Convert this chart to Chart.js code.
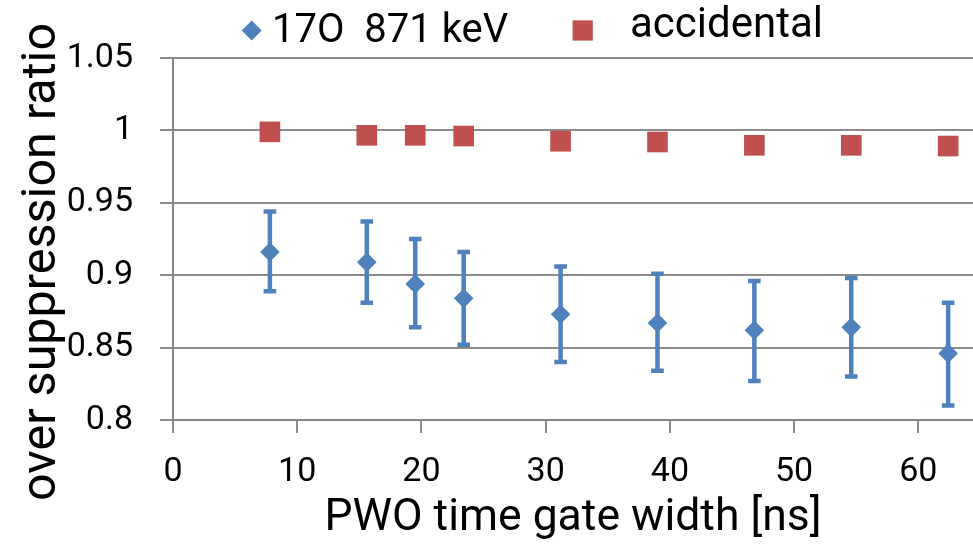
<!DOCTYPE html>
<html><head><meta charset="utf-8">
<script src="https://cdn.jsdelivr.net/npm/chart.js@4.4.0/dist/chart.umd.min.js"></script>
<style>html,body{margin:0;padding:0;background:#fff;overflow:hidden}canvas{display:block}</style>
</head><body>
<canvas id="c" width="973" height="544"></canvas>
<script>
// ---- data ----
const gateWidths = [7.8, 15.6, 19.5, 23.4, 31.2, 39.0, 46.8, 54.6, 62.4];
const ratio17O = [0.916, 0.909, 0.894, 0.884, 0.873, 0.867, 0.862, 0.864, 0.846];
const ratio17OHigh = [0.944, 0.937, 0.925, 0.916, 0.906, 0.901, 0.896, 0.898, 0.881];
const ratio17OLow = [0.889, 0.881, 0.864, 0.852, 0.840, 0.834, 0.827, 0.830, 0.810];
const ratioAccidental = [0.999, 0.9966, 0.9966, 0.9961, 0.9925, 0.992, 0.9897, 0.9897, 0.9892];
const xTickValues = [0, 10, 20, 30, 40, 50, 60];
const yTickValues = [0.8, 0.85, 0.9, 0.95, 1, 1.05];
const seriesLabels = ['17O  871 keV', 'accidental'];
const xTitle = 'PWO time gate width [ns]';
const yTitle = 'over suppression ratio';

const BLUE = '#4F81BD';
const RED = '#C0504D';
const FONT = 'Roboto';
Chart.defaults.font.family = FONT;

const errorBarPlugin = {
  id: 'errorBars',
  beforeDatasetsDraw(chart) {
    const ctx = chart.ctx, xs = chart.scales.x, ys = chart.scales.y;
    ctx.save();
    ctx.strokeStyle = BLUE;
    ctx.lineWidth = 4.5;
    ctx.lineCap = 'butt';
    gateWidths.forEach((g, i) => {
      const x = xs.getPixelForValue(g);
      const yt = ys.getPixelForValue(ratio17OHigh[i]);
      const yb = ys.getPixelForValue(ratio17OLow[i]);
      ctx.beginPath();
      ctx.moveTo(x, yt); ctx.lineTo(x, yb);
      ctx.moveTo(x - 6.3, yt); ctx.lineTo(x + 6.3, yt);
      ctx.moveTo(x - 6.3, yb); ctx.lineTo(x + 6.3, yb);
      ctx.stroke();
    });
    ctx.restore();
  }
};

const legendPlugin = {
  id: 'customLegend',
  afterDraw(chart) {
    const ctx = chart.ctx;
    const ds = chart.data.datasets;
    ctx.save();
    ctx.fillStyle = ds[0].backgroundColor;
    ctx.strokeStyle = ds[0].backgroundColor;
    Chart.helpers.drawPoint(ctx, {pointStyle: 'rectRot', radius: 10, borderWidth: 0}, 251.7, 30.5);
    ctx.fillStyle = ds[1].backgroundColor;
    ctx.strokeStyle = ds[1].backgroundColor;
    Chart.helpers.drawPoint(ctx, {pointStyle: 'rect', radius: 14.3, borderWidth: 0}, 582.7, 30.5);
    ctx.fillStyle = '#000';
    ctx.textAlign = 'left';
    ctx.textBaseline = 'alphabetic';
    ctx.font = '40px ' + FONT;
    ctx.fillText(ds[0].label, 272, 41.5);
    ctx.font = '42px ' + FONT;
    ctx.fillText(ds[1].label, 630, 36.5);
    ctx.restore();
  }
};

const yTitlePlugin = {
  id: 'yTitle',
  afterDraw(chart) {
    const ctx = chart.ctx;
    ctx.save();
    ctx.translate(55, 262);
    ctx.rotate(-Math.PI / 2);
    ctx.fillStyle = '#000';
    ctx.font = '48.5px ' + FONT;
    ctx.textAlign = 'center';
    ctx.textBaseline = 'alphabetic';
    ctx.fillText(yTitle, 0, 0);
    ctx.restore();
  }
};

new Chart(document.getElementById('c'), {
  type: 'scatter',
  data: {
    datasets: [
      {
        label: seriesLabels[0],
        data: gateWidths.map((x, i) => ({x: x, y: ratio17O[i]})),
        pointStyle: 'rectRot', pointRadius: 9.8, pointHoverRadius: 9.8,
        backgroundColor: BLUE, borderColor: BLUE, borderWidth: 0, showLine: false
      },
      {
        label: seriesLabels[1],
        data: gateWidths.map((x, i) => ({x: x, y: ratioAccidental[i]})),
        pointStyle: 'rect', pointRadius: 14.6, pointHoverRadius: 14.6,
        backgroundColor: RED, borderColor: RED, borderWidth: 0, showLine: false
      }
    ]
  },
  options: {
    responsive: false, animation: false, devicePixelRatio: 1,
    layout: {autoPadding: false, padding: {top: 58, right: 0, bottom: 0, left: 0}},
    plugins: {legend: {display: false}, tooltip: {enabled: false}},
    scales: {
      x: {
        type: 'linear', position: 'bottom', min: 0, max: 64.4,
        afterBuildTicks(s) { s.ticks = xTickValues.map(v => ({value: v})); },
        afterFit(s) { s.height = 124; s.paddingRight = 0; s.paddingLeft = 0; },
        grid: {drawOnChartArea: false, drawTicks: true, tickLength: 13, color: '#8c8c8c', lineWidth: 2},
        border: {display: true, color: '#868686', width: 2},
        ticks: {padding: 22.5, font: {size: 34, lineHeight: 1}, color: '#000', maxRotation: 0, autoSkip: false},
        title: {display: true, text: xTitle, font: {size: 44.5, lineHeight: 1}, color: '#000', padding: {top: 0, bottom: 3}}
      },
      y: {
        type: 'linear', min: 0.8, max: 1.05,
        afterBuildTicks(s) { s.ticks = yTickValues.map(v => ({value: v})); },
        afterFit(s) { s.width = 173; s.paddingTop = 0; s.paddingBottom = 0; },
        grid: {drawTicks: true, tickLength: 13, color: '#8c8c8c', lineWidth: 2},
        border: {display: true, color: '#868686', width: 2},
        ticks: {padding: 27, font: {size: 34, lineHeight: 1}, color: '#000', autoSkip: false,
                callback: v => String(Number(v.toFixed(2)))}
      }
    }
  },
  plugins: [errorBarPlugin, legendPlugin, yTitlePlugin]
});
</script>
</body></html>
